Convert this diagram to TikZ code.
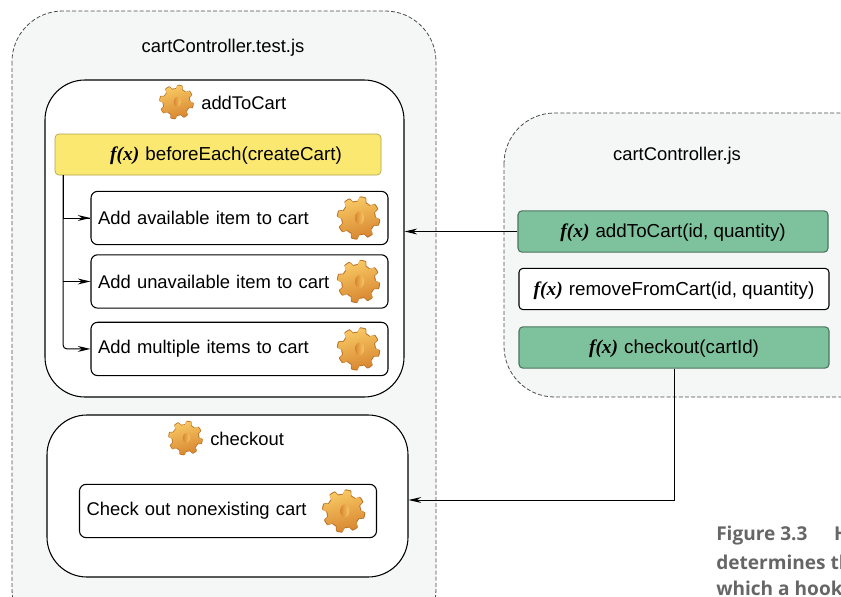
\documentclass[tikz,border=0pt]{standalone}
\usepackage{fontspec}
\setmainfont{Liberation Sans}
\newfontfamily\fxfont{Liberation Serif}
\newfontfamily\capfont{Open Sans}
\usetikzlibrary{positioning,arrows.meta}
\definecolor{shellgray}{HTML}{F4F7F6}
\definecolor{hookyellow}{HTML}{FBE871}
\definecolor{fngreen}{HTML}{7DC29D}
\definecolor{gearlight}{HTML}{F8C964}
\definecolor{geardark}{HTML}{D88630}
\tikzstyle{shell} = [rectangle, rounded corners=38pt, dash pattern=on 3pt off 1.6pt, draw=black!70, fill=shellgray, line width=0.6pt]
\tikzstyle{suite} = [rectangle, rounded corners=30pt, draw=black, fill=white, line width=0.8pt]
\tikzstyle{hook} = [rectangle, rounded corners=3pt, draw=hookyellow!70!black, fill=hookyellow, line width=0.5pt, minimum width=244.5pt, minimum height=30.75pt, text height=12.5pt, text depth=3pt, font=\fontsize{14.1pt}{16pt}\selectfont]
\tikzstyle{test} = [rectangle, rounded corners=5pt, draw=black, fill=white, line width=0.8pt, minimum width=222.75pt, minimum height=40pt, text width=212pt, align=left, inner xsep=5pt]
\tikzstyle{fn} = [rectangle, rounded corners=3pt, draw=black, fill=white, line width=0.8pt, minimum width=232.5pt, minimum height=31pt, text height=12.5pt, text depth=3pt, font=\fontsize{14.1pt}{16pt}\selectfont]
\tikzstyle{fngreenbox} = [fn, draw=fngreen!60!black, fill=fngreen]
\tikzstyle{arrow} = [->, >={Stealth[length=9.5pt,width=4.4pt]}, line width=0.75pt]
\tikzstyle{caption} = [anchor=west, inner sep=0pt, text=black!60, font=\capfont\bfseries\fontsize{14.3pt}{16pt}\selectfont]
\tikzset{
  pics/gear/.style={code={
    \fill[geardark!85!black] plot[samples=145, domain=0:360] ({1+\x:{19.5+2.2*max(-1,min(1,2.5*sin(8*\x)))}}) -- cycle;
    \shade[left color=gearlight, right color=geardark, shading angle=15] plot[samples=145, domain=0:360] (\x:{18.5+2.2*max(-1,min(1,2.5*sin(8*\x)))}) -- cycle;
    \shade[left color=geardark, right color=gearlight] (1,0) ellipse (4.5 and 6.5);
  }}
}
\newcommand{\fx}{{\fxfont\bfseries\itshape\fontsize{14.6pt}{15pt}\selectfont f(x)}\hspace{4.5pt}}
\begin{document}
\begin{tikzpicture}[x=0.75pt, y=-0.75pt, node distance=47.6pt, font=\fontsize{13.8pt}{16pt}\selectfont]
\path[use as bounding box, clip] (0,0) rectangle (841,596);
%containers
\draw[shell] (12,11) rectangle (436,640);
\draw[shell] (504,113) rectangle (900,397);
\node[rectangle, suite, minimum width=269.25pt, minimum height=237.75pt] (addbox) at (224.5,238.5) {};
\node[rectangle, suite, minimum width=270.75pt, minimum height=121.5pt] (checkbox) at (227.5,496) {};
%titles
\node (testtitle) at (223,48) {cartController.test.js};
\node (srctitle) at (677,156) {cartController.js};
\node[anchor=west, inner xsep=0pt] (addtitle) at (201,102.5) {addToCart};
\node[anchor=west, inner xsep=0pt] (checktitle) at (210,439) {checkout};
%left side
\node (before) [hook] at (218,154.5) {\hspace{12pt}\fx beforeEach(createCart)};
\node (test1) [test] at (239.5,218) {Add available item to cart};
\node (test2) [test, below of=test1] {Add unavailable item to cart};
\node (test3) [test, below of=test2, yshift=-3pt] {Add multiple items to cart};
\node (test4) [test] at (228,511) {Check out nonexisting cart};
%right side
\node (fnadd) [fngreenbox] at (673,231.5) {\fx addToCart(id, quantity)};
\node (fnremove) [fn] at (674,289) {\fx removeFromCart(id, quantity)};
\node (fncheck) [fngreenbox] at (674,347.5) {\fx checkout(cartId)};
%gears
\pic[scale=0.8] at (176.5,102) {gear};
\pic[scale=0.8] at (185.5,438) {gear};
\pic at ([xshift=-22.5pt]test1.east) {gear};
\pic at ([xshift=-22.5pt]test2.east) {gear};
\pic at ([xshift=-22.5pt]test3.east) {gear};
\pic at ([xshift=-25pt]test4.east) {gear};
%arrows
\coordinate (hookstart) at (63,175);
\draw [line width=0.75pt] (hookstart) |- (test1.west);
\draw [arrow] (hookstart |- test1.west) -- (test1.west);
\draw [arrow] (hookstart |- test2.west) -- (test2.west);
\draw [arrow, rounded corners=3pt] (hookstart) |- (test3.west);
\draw [arrow] (fnadd.west) -- (fnadd.west -| addbox.east);
\draw [arrow] (fncheck.south) |- ([yshift=-3pt]checkbox.east);
%caption
\node[caption] (capa) at (716,536) {Figure 3.3\hspace{1.4em}H};
\node[caption] (capb) at (716,562) {determines th};
\node[caption] (capc) at (716,588) {which a hook};
\end{tikzpicture}
\end{document}
